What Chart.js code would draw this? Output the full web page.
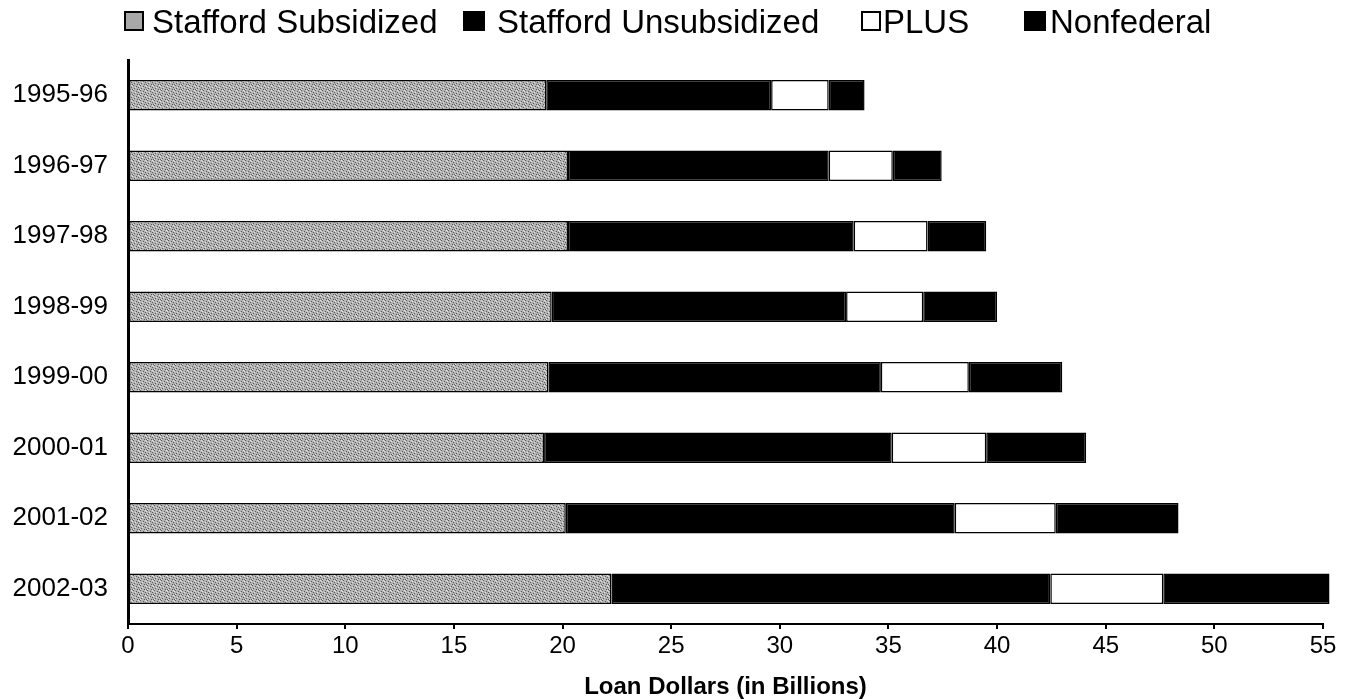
<!DOCTYPE html>
<html>
<head>
<meta charset="utf-8">
<script src="https://cdn.jsdelivr.net/npm/chart.js@4"></script>
<style>
  html, body { margin: 0; padding: 0; background: #fff; }
  #wrap { position: relative; width: 1356px; height: 699px; }
  #legend { position: absolute; left: 0; top: 0; width: 1356px; height: 50px;
    font-family: "Liberation Sans", Arial, sans-serif; font-size: 33px; color: #000; }
  #legend .box { position: absolute; top: 11px; height: 20px; box-sizing: border-box; border: 2px solid #000; }
  #legend .txt { position: absolute; top: 2px; line-height: 40px; white-space: nowrap; }
</style>
</head>
<body>
<div id="wrap">
  <canvas id="chart" width="1356" height="699"></canvas>
  <div id="legend"></div>
</div>
<script>
const years = ['1995-96', '1996-97', '1997-98', '1998-99', '1999-00', '2000-01', '2001-02', '2002-03'];
const seriesNames = ['Stafford Subsidized', 'Stafford Unsubsidized', 'PLUS', 'Nonfederal'];
const staffordSubsidized = [19.25, 20.25, 20.25, 19.5, 19.35, 19.15, 20.15, 22.25];
const staffordUnsubsidized = [10.35, 12.0, 13.15, 13.55, 15.3, 16.0, 17.9, 20.2];
const plusLoans = [2.65, 2.95, 3.4, 3.55, 4.05, 4.35, 4.65, 5.2];
const nonfederal = [1.65, 2.25, 2.7, 3.4, 4.3, 4.6, 5.65, 7.65];
const xTicks = [0, 5, 10, 15, 20, 25, 30, 35, 40, 45, 50, 55];

// speckled grey fill for the subsidized bars
function makeSpeckle() {
  const c = document.createElement('canvas');
  c.width = 7; c.height = 5;
  const g = c.getContext('2d');
  g.fillStyle = '#b3b3b3';
  g.fillRect(0, 0, 7, 5);
  g.fillStyle = '#5a5a5a';
  [[0, 0], [3, 1], [1, 3], [5, 2], [6, 4], [4, 4]].forEach(p => g.fillRect(p[0], p[1], 1, 1));
  g.fillStyle = '#e2e2e2';
  [[2, 2], [5, 0], [0, 4], [6, 1]].forEach(p => g.fillRect(p[0], p[1], 1, 1));
  return g.createPattern(c, 'repeat');
}
const ctx = document.getElementById('chart').getContext('2d');
const speckle = makeSpeckle();

const fills = [speckle, '#000', '#fff', '#000'];
const seriesValues = [staffordSubsidized, staffordUnsubsidized, plusLoans, nonfederal];

// legend drawn as html so the box/text spacing can match
const legendBoxes = [[124, 20], [463, 22], [861, 20], [1024, 22]];
const legendText = [152, 497, 883, 1050];
const legendFills = ['#a8a8a8', '#000', '#fff', '#000'];
const legend = document.getElementById('legend');
seriesNames.forEach((name, i) => {
  const b = document.createElement('div');
  b.className = 'box';
  b.style.left = legendBoxes[i][0] + 'px';
  b.style.width = legendBoxes[i][1] + 'px';
  b.style.background = legendFills[i];
  legend.appendChild(b);
  const t = document.createElement('div');
  t.className = 'txt';
  t.style.left = legendText[i] + 'px';
  t.textContent = name;
  legend.appendChild(t);
});

const font = 'Liberation Sans, Arial, sans-serif';

new Chart(ctx, {
  type: 'bar',
  data: {
    labels: years,
    datasets: seriesNames.map((name, i) => ({
      label: name,
      data: seriesValues[i],
      backgroundColor: fills[i],
      borderColor: '#000',
      borderWidth: 1.5,
      borderSkipped: false,
      barPercentage: 0.43,
      categoryPercentage: 1,
      clip: false,
    })),
  },
  options: {
    indexAxis: 'y',
    responsive: false,
    animation: false,
    layout: { padding: { top: 60, right: 33, bottom: 0, left: 0 } },
    plugins: {
      legend: { display: false },
      tooltip: { enabled: false },
    },
    scales: {
      x: {
        stacked: true,
        min: 0,
        max: 55,
        afterBuildTicks: s => { s.ticks = xTicks.map(v => ({ value: v })); },
        afterFit: s => { s.height = 75; },
        border: { color: '#000', width: 2 },
        grid: { drawOnChartArea: false, drawTicks: true, tickLength: 5, color: '#000', lineWidth: 2 },
        ticks: { color: '#000', padding: 3, maxRotation: 0, font: { family: font, size: 24 } },
        title: {
          display: true,
          text: 'Loan Dollars (in Billions)',
          color: '#000',
          padding: { top: 0, bottom: 0 },
          font: { family: font, size: 24, weight: 'bold', lineHeight: 1 },
        },
      },
      y: {
        stacked: true,
        afterFit: s => { s.width = 128; },
        border: { color: '#000', width: 3 },
        grid: { display: false, drawTicks: false },
        ticks: { color: '#000', padding: 20, font: { family: font, size: 26 } },
      },
    },
  },
});
</script>
</body>
</html>
